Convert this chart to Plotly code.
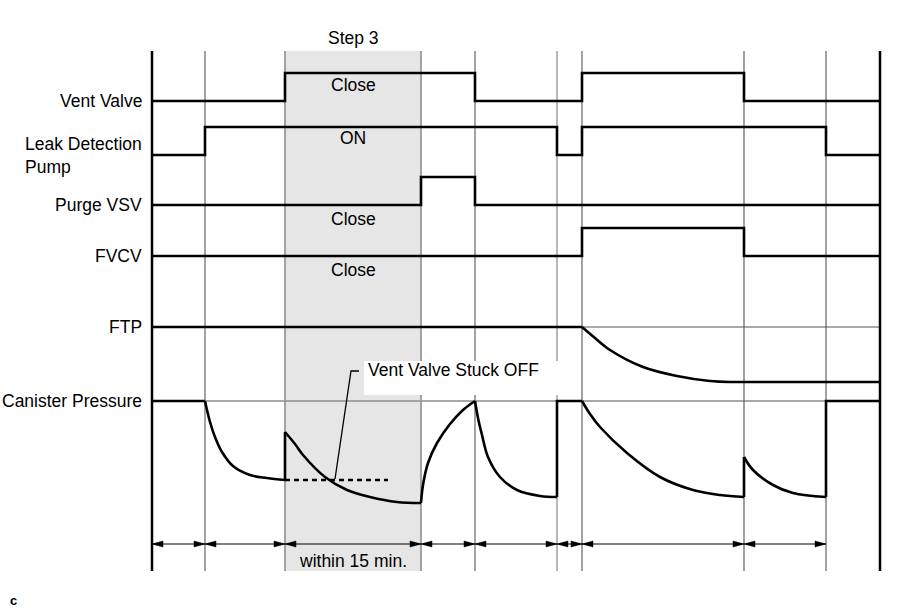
import plotly.graph_objects as go

# ---------------- data ----------------
# boundaries of the timing phases (time axis units)
event_times = [152, 205, 285, 421, 475, 557, 582, 744, 826, 880]
step3_start, step3_end = 285, 421

row_labels = ["Vent Valve", "Leak Detection<br>Pump", "Purge VSV", "FVCV", "FTP", "Canister Pressure"]
row_levels = [101, 155, 205, 256, 327, 401]

# digital signals: switching times and the state held after each one
vent_times = [152, 285, 475, 582, 744, 880]
vent_states = [0, 1, 0, 1, 0, 0]
pump_times = [152, 205, 557, 582, 826, 880]
pump_states = [0, 1, 0, 1, 0, 0]
purge_times = [152, 421, 475, 880]
purge_states = [0, 1, 0, 0]
fvcv_times = [152, 582, 744, 880]
fvcv_states = [0, 1, 0, 0]

# FTP (analog)
ftp_flat_t = [152, 582]
ftp_flat_v = [327, 327]
ftp_curve_t = [582, 595, 610, 643, 677, 710, 730]
ftp_curve_v = [327, 338, 350, 367, 376, 381, 382]
ftp_end_t = [730, 880]
ftp_end_v = [382, 382]

# Canister pressure curve segments
can_segments_t = [
    [205, 207, 210, 215, 222, 233, 250, 267, 285],
    [285, 295, 303, 325, 347, 370, 397, 421],
    [421, 423, 428, 437, 450, 463, 475],
    [475, 478, 482, 488, 500, 517, 540, 557],
    [582, 590, 600, 627, 660, 693, 720, 744],
    [744, 753, 773, 793, 826],
]
can_segments_v = [
    [401, 410, 422, 437, 452, 466, 475, 478, 480],
    [432, 444, 455, 477, 490, 497, 502, 503],
    [503, 485, 463, 443, 424, 410, 401],
    [401, 418, 435, 457, 477, 490, 496, 497],
    [401, 414, 427, 453, 477, 490, 495, 497],
    [457, 470, 485, 493, 497],
]
# straight parts (flats and jumps), None separates pieces
can_lin_t = [152, 205, None, 285, 285, None, 557, 557, 582, None, 744, 744, None, 826, 826, 880]
can_lin_v = [401, 401, None, 480, 432, None, 497, 401, 401, None, 497, 457, None, 497, 401, 401]

# "Vent Valve Stuck OFF" level
stuck_t = [285, 388]
stuck_v = [480, 480]

state_texts = ["Close", "ON", "Close", "Close"]
state_text_y = [85, 138, 219, 270]

# ---------------- styles ----------------
FONT = "Liberation Sans, Arial, Helvetica, sans-serif"
FS = 17.5
LW = 2.6
AMP = 28
TOP, BOT = 51, 571
ARROW_Y = 544

fig = go.Figure()


def step_xy(times, states, base):
    xs, ys = [], []
    for i in range(len(times) - 1):
        y = base - AMP * states[i]
        xs += [times[i], times[i + 1]]
        ys += [y, y]
    return xs, ys


for times, states, base in [
    (vent_times, vent_states, row_levels[0]),
    (pump_times, pump_states, row_levels[1]),
    (purge_times, purge_states, row_levels[2]),
    (fvcv_times, fvcv_states, row_levels[3]),
]:
    xs, ys = step_xy(times, states, base)
    fig.add_trace(go.Scatter(x=xs, y=ys, mode="lines",
                             line=dict(color="black", width=LW), hoverinfo="skip"))

# FTP
fig.add_trace(go.Scatter(x=ftp_flat_t + [None] + ftp_end_t, y=ftp_flat_v + [None] + ftp_end_v,
                         mode="lines", line=dict(color="black", width=LW), hoverinfo="skip"))
fig.add_trace(go.Scatter(x=ftp_curve_t, y=ftp_curve_v, mode="lines",
                         line=dict(color="black", width=LW, shape="spline", smoothing=1.0),
                         hoverinfo="skip"))

# Canister pressure
fig.add_trace(go.Scatter(x=can_lin_t, y=can_lin_v, mode="lines",
                         line=dict(color="black", width=LW), hoverinfo="skip"))
for ts, vs in zip(can_segments_t, can_segments_v):
    fig.add_trace(go.Scatter(x=ts, y=vs, mode="lines",
                             line=dict(color="black", width=LW, shape="spline", smoothing=1.0),
                             hoverinfo="skip"))

# stuck line + leader
fig.add_trace(go.Scatter(x=stuck_t, y=stuck_v, mode="lines",
                         line=dict(color="black", width=LW, dash="5px,4px"), hoverinfo="skip"))
fig.add_trace(go.Scatter(x=[335, 351, 359], y=[479, 371, 371], mode="lines",
                         line=dict(color="black", width=1.3), hoverinfo="skip"))

# arrow row
seg_x = []
for a, b in zip(event_times[:-2], event_times[1:-1]):
    seg_x += [a, b, None]
fig.add_trace(go.Scatter(x=seg_x, y=[ARROW_Y if v is not None else None for v in seg_x],
                         mode="lines", line=dict(color="black", width=1), hoverinfo="skip"))
tri_x, tri_y = [], []
AL, AH = 11, 3
for a, b in zip(event_times[:-2], event_times[1:-1]):
    tri_x += [a, a + AL, a + AL, a, None, b, b - AL, b - AL, b, None]
    tri_y += [ARROW_Y, ARROW_Y - AH, ARROW_Y + AH, ARROW_Y, None,
              ARROW_Y, ARROW_Y - AH, ARROW_Y + AH, ARROW_Y, None]
fig.add_trace(go.Scatter(x=tri_x, y=tri_y, mode="lines", fill="toself", fillcolor="black",
                         line=dict(color="black", width=0.5), hoverinfo="skip"))

# ---------------- shapes ----------------
shapes = [dict(type="rect", x0=step3_start, x1=step3_end, y0=TOP, y1=BOT,
               fillcolor="#e6e6e6", line=dict(width=0), layer="below")]
for y in [row_levels[4], row_levels[5]]:
    shapes.append(dict(type="line", x0=event_times[0], x1=event_times[-1], y0=y, y1=y,
                       line=dict(color="#8c8c8c", width=1.5), layer="below"))
vstyles = {0: ("black", 2.5), 9: ("black", 2.5), 5: ("#b0b0b0", 1.8),
           6: ("#555555", 1.1), 7: ("#555555", 1.1), 8: ("#555555", 1.1)}
for i, t in enumerate(event_times):
    c, w = vstyles.get(i, ("#9a9a9a", 1.8))
    shapes.append(dict(type="line", x0=t, x1=t, y0=TOP, y1=BOT,
                       line=dict(color=c, width=w), layer="below"))
# white label box
shapes.append(dict(type="rect", x0=364, x1=560, y0=361, y1=395,
                   fillcolor="white", line=dict(width=0), layer="below"))

# ---------------- texts ----------------
ann = []
for lab, y in zip(row_labels, row_levels):
    ann.append(dict(x=144, y=y, text=lab, showarrow=False, xanchor="right", yanchor="middle",
                    align="left", font=dict(size=FS, color="black", family=FONT)))
for txt, y in zip(state_texts, state_text_y):
    ann.append(dict(x=(step3_start + step3_end) / 2, y=y, text=txt, showarrow=False,
                    font=dict(size=FS, color="black", family=FONT)))
ann.append(dict(x=(step3_start + step3_end) / 2, y=38, text="Step 3", showarrow=False,
                font=dict(size=FS, color="black", family=FONT)))
ann.append(dict(x=(step3_start + step3_end) / 2, y=561, text="within 15 min.", showarrow=False,
                font=dict(size=FS, color="black", family=FONT)))
ann.append(dict(x=366, y=370, text="Vent Valve Stuck OFF", showarrow=False, xanchor="left",
                font=dict(size=FS, color="black", family=FONT)))
ann.append(dict(x=8, y=600, text="<b>c</b>", showarrow=False, xanchor="left",
                font=dict(size=13, color="black", family=FONT)))

fig.update_layout(
    width=907, height=610, autosize=False,
    margin=dict(l=0, r=0, t=0, b=0),
    paper_bgcolor="white", plot_bgcolor="white",
    showlegend=False,
    xaxis=dict(range=[0, 907], visible=False, fixedrange=True),
    yaxis=dict(range=[610, 0], visible=False, fixedrange=True),
    shapes=shapes, annotations=ann,
)

fig.write_html("out.html", config={"displayModeBar": False},
               post_script="document.body.style.margin='0';document.body.style.overflow='hidden';")
